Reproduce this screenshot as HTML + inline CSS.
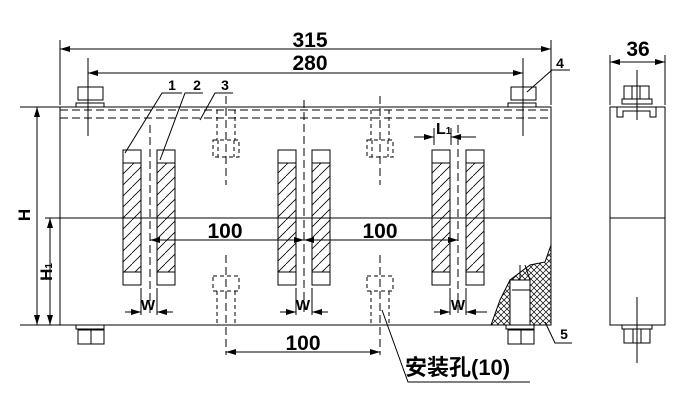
<!DOCTYPE html>
<html><head><meta charset="utf-8"><style>html,body{margin:0;padding:0;background:#fff}svg{display:block}text{font-family:"Liberation Sans","Noto Sans CJK SC",sans-serif;font-weight:bold;fill:#000}</style></head><body>
<svg width="697" height="414" viewBox="0 0 697 414" xmlns="http://www.w3.org/2000/svg">
<defs>
<pattern id="h" width="11" height="11" patternUnits="userSpaceOnUse"><path d="M-2 13 L13 -2" stroke="#000" stroke-width="0.8"/></pattern>
<pattern id="x" width="6" height="6" patternUnits="userSpaceOnUse"><path d="M0 6 L6 0 M0 0 L6 6" stroke="#000" stroke-width="0.7"/></pattern>
<marker id="a" markerWidth="10" markerHeight="6" refX="10" refY="3" orient="auto-start-reverse" markerUnits="userSpaceOnUse"><path d="M0 0 L10 3 L0 6z" fill="#000"/></marker>
</defs>
<g stroke="#000" stroke-width="1" fill="none">
<rect x="60" y="107" width="491" height="218"/>
<line x1="20" y1="107" x2="60" y2="107"/>
<line x1="20" y1="325" x2="60" y2="325"/>
<line x1="45" y1="218" x2="551" y2="218"/>
<line x1="60" y1="110" x2="551" y2="110" stroke-dasharray="8,4"/>
<line x1="60" y1="118" x2="551" y2="118" stroke-dasharray="8,4"/>
<line x1="60" y1="40" x2="60" y2="105"/><line x1="551" y1="40" x2="551" y2="105"/>
<line x1="60" y1="49" x2="551" y2="49" marker-start="url(#a)" marker-end="url(#a)"/>
<line x1="88" y1="73" x2="523" y2="73" marker-start="url(#a)" marker-end="url(#a)"/>
<line x1="88" y1="58" x2="88" y2="136"/><line x1="523" y1="58" x2="523" y2="136"/>
<line x1="37" y1="107" x2="37" y2="325" marker-start="url(#a)" marker-end="url(#a)"/>
<line x1="50" y1="218" x2="50" y2="325" marker-start="url(#a)" marker-end="url(#a)"/>
<rect x="78" y="87" width="25" height="13"/><rect x="76" y="103" width="28" height="4"/>
<rect x="511" y="87" width="25" height="13"/><rect x="508" y="103" width="28" height="4"/>
<rect x="76" y="325" width="28" height="4"/><rect x="78" y="330" width="26" height="14"/><line x1="91" y1="330" x2="91" y2="344"/>
<rect x="506" y="325" width="28" height="4"/><rect x="508" y="330" width="26" height="14"/><line x1="521" y1="330" x2="521" y2="344"/>
<g fill="url(#h)">
<rect x="123" y="150" width="18" height="135"/><rect x="157" y="150" width="18" height="135"/>
<rect x="278" y="150" width="18" height="135"/><rect x="312" y="150" width="18" height="135"/>
<rect x="432" y="150" width="18" height="135"/><rect x="466" y="150" width="18" height="135"/>
</g>
<g fill="#fff">
<rect x="123" y="150" width="18" height="13"/><rect x="157" y="150" width="18" height="13"/><rect x="123" y="272" width="18" height="13"/><rect x="157" y="272" width="18" height="13"/>
<rect x="278" y="150" width="18" height="13"/><rect x="312" y="150" width="18" height="13"/><rect x="278" y="272" width="18" height="13"/><rect x="312" y="272" width="18" height="13"/>
<rect x="432" y="150" width="18" height="13"/><rect x="466" y="150" width="18" height="13"/><rect x="432" y="272" width="18" height="13"/><rect x="466" y="272" width="18" height="13"/>
</g>
<g stroke-dasharray="8,4">
<line x1="150" y1="125" x2="150" y2="315"/><line x1="304" y1="100" x2="304" y2="315"/><line x1="458" y1="125" x2="458" y2="315"/>
<line x1="226" y1="96" x2="226" y2="185"/><line x1="380" y1="96" x2="380" y2="185"/>
<line x1="226" y1="255" x2="226" y2="355"/><line x1="380" y1="255" x2="380" y2="355"/>
</g>
<g stroke-dasharray="4,3">
<path d="M217 110 V140 M235 110 V140 M213 140 h26 v17 h-26z M218 140 v17 M234 140 v17"/>
<path d="M371 110 V140 M389 110 V140 M367 140 h26 v17 h-26z M372 140 v17 M388 140 v17"/>
<path d="M213 276 h26 v15 h-26z M217 291 V325 M235 291 V325"/>
<path d="M367 276 h26 v15 h-26z M371 291 V325 M389 291 V325"/>
</g>
<line x1="150" y1="240" x2="304" y2="240" marker-start="url(#a)" marker-end="url(#a)"/>
<line x1="304" y1="240" x2="458" y2="240" marker-start="url(#a)" marker-end="url(#a)"/>
<line x1="226" y1="352" x2="380" y2="352" marker-start="url(#a)" marker-end="url(#a)"/>
<line x1="141" y1="288" x2="141" y2="315"/><line x1="157" y1="288" x2="157" y2="315"/>
<line x1="125" y1="312" x2="141" y2="312" marker-end="url(#a)"/><line x1="173" y1="312" x2="157" y2="312" marker-end="url(#a)"/>
<line x1="296" y1="288" x2="296" y2="315"/><line x1="312" y1="288" x2="312" y2="315"/>
<line x1="280" y1="312" x2="296" y2="312" marker-end="url(#a)"/><line x1="328" y1="312" x2="312" y2="312" marker-end="url(#a)"/>
<line x1="450" y1="288" x2="450" y2="315"/><line x1="466" y1="288" x2="466" y2="315"/>
<line x1="434" y1="312" x2="450" y2="312" marker-end="url(#a)"/><line x1="487" y1="312" x2="466" y2="312" marker-end="url(#a)"/>
<line x1="434" y1="128" x2="434" y2="145"/><line x1="451" y1="128" x2="451" y2="145"/>
<line x1="414" y1="137" x2="434" y2="137" marker-end="url(#a)"/><line x1="476" y1="137" x2="451" y2="137" marker-end="url(#a)"/>
<path d="M125 153 L162 93 H182"/><path d="M160 160 L185 93 H203"/><path d="M200 120 L215 93 H233"/>
<path d="M527 92 L552 70 H570"/>
<path d="M545 322 L555 343 H572"/>
<path d="M382 310 L408 382 H530"/>
<path d="M491 325 L500 300 L510 280 L530 265 L545 262 L551 245 V325 Z" fill="url(#x)"/>
<path d="M510 325 V280 H530 V325 Z M512 290 H530 M520 280 V265 M530 280 L525 265" fill="#fff"/>
<rect x="610" y="107" width="55" height="218"/>
<line x1="610" y1="218" x2="665" y2="218"/>
<line x1="610" y1="55" x2="610" y2="105"/><line x1="665" y1="55" x2="665" y2="105"/>
<line x1="610" y1="62" x2="665" y2="62" marker-start="url(#a)" marker-end="url(#a)"/>
<rect x="624" y="86" width="25" height="13"/><line x1="632" y1="86" x2="632" y2="99"/><line x1="640" y1="86" x2="640" y2="99"/>
<rect x="622" y="99" width="30" height="5"/>
<path d="M617 107 V117 H623 V111 H650 V117 H656 V107"/>
<line x1="637" y1="70" x2="637" y2="120"/>
<rect x="622" y="325" width="30" height="4"/><rect x="624" y="329" width="26" height="14"/><line x1="633" y1="329" x2="633" y2="343"/><line x1="641" y1="329" x2="641" y2="343"/>
<line x1="637" y1="297" x2="637" y2="363"/>
</g>
<g font-size="21">
<text x="310" y="47" text-anchor="middle">315</text>
<text x="310" y="70" text-anchor="middle">280</text>
<text x="638" y="56" text-anchor="middle">36</text>
<text x="225" y="238" text-anchor="middle">100</text>
<text x="380" y="238" text-anchor="middle">100</text>
<text x="303" y="350" text-anchor="middle">100</text>
<text x="405" y="375" font-size="22">安装孔(10)</text>
</g>
<g font-size="14">
<text x="172" y="90" text-anchor="middle">1</text><text x="197" y="90" text-anchor="middle">2</text><text x="225" y="90" text-anchor="middle">3</text>
<text x="560" y="68" text-anchor="middle">4</text><text x="564" y="339" text-anchor="middle">5</text>
<text x="148" y="310" text-anchor="middle" font-size="15">W</text><text x="303" y="310" text-anchor="middle" font-size="15">W</text><text x="458" y="310" text-anchor="middle" font-size="15">W</text>
<text x="436" y="134" font-size="16">L<tspan font-size="10">1</tspan></text>
<text transform="translate(30,215) rotate(-90)" text-anchor="middle" font-size="17">H</text>
<text transform="translate(52,272) rotate(-90)" text-anchor="middle" font-size="17">H<tspan font-size="10">1</tspan></text>
</g>
</svg>
</body></html>
